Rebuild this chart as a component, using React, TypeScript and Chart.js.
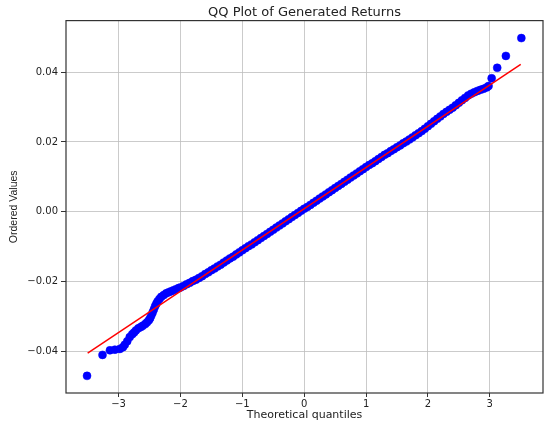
import React, { useEffect, useRef } from "react";
import { Chart, registerables } from "chart.js";

Chart.register(...registerables);

const chartTitle = "QQ Plot of Generated Returns";
const xAxisTitle = "Theoretical quantiles";
const yAxisTitle = "Ordered Values";

const xTicks = [-3, -2, -1, 0, 1, 2, 3];
const yTicks = [-0.04, -0.02, 0.0, 0.02, 0.04];

// Theoretical quantiles (x) and ordered sample values (y)
const quantiles = [
  -3.51, -3.26, -3.14, -3.06, -2.98, -2.93, -2.9, -2.86, -2.82, -2.78, -2.75, -2.72,
  -2.68, -2.64, -2.61, -2.57, -2.54, -2.51, -2.49, -2.47, -2.45, -2.43, -2.41, -2.39,
  -2.37, -2.34, -2.31, -2.27, -2.23, -2.19, -2.15, -2.11, -2.07, -2.03, -2.0, -1.95,
  -1.9, -1.85, -1.8, -1.75, -1.7, -1.65, -1.6, -1.55, -1.5, -1.45, -1.4, -1.35, -1.3,
  -1.25, -1.2, -1.15, -1.1, -1.05, -1.0, -0.95, -0.9, -0.85, -0.8, -0.75, -0.7, -0.65,
  -0.6, -0.55, -0.5, -0.45, -0.4, -0.35, -0.3, -0.25, -0.2, -0.15, -0.1, -0.05, 0.0,
  0.05, 0.1, 0.15, 0.2, 0.25, 0.3, 0.35, 0.4, 0.45, 0.5, 0.55, 0.6, 0.65, 0.7, 0.75,
  0.8, 0.85, 0.9, 0.95, 1.0, 1.05, 1.1, 1.15, 1.2, 1.25, 1.3, 1.35, 1.4, 1.45, 1.5,
  1.55, 1.6, 1.65, 1.7, 1.75, 1.8, 1.85, 1.9, 1.95, 2.0, 2.05, 2.1, 2.15, 2.2, 2.25,
  2.3, 2.35, 2.4, 2.45, 2.5, 2.55, 2.6, 2.65, 2.7, 2.75, 2.8, 2.85, 2.9, 2.95, 2.98,
  3.03, 3.12, 3.26, 3.51,
];

const orderedValues = [
  -0.0469, -0.0409, -0.0396, -0.0394, -0.0392, -0.0387, -0.038, -0.037, -0.0358,
  -0.035, -0.0345, -0.0339, -0.0333, -0.0329, -0.0326, -0.0321, -0.0316, -0.031,
  -0.0304, -0.0296, -0.0288, -0.0279, -0.027, -0.0263, -0.0256, -0.0249, -0.0243,
  -0.0238, -0.0233, -0.023, -0.0227, -0.0224, -0.0221, -0.0218, -0.0216, -0.0212,
  -0.0207, -0.0203, -0.0198, -0.0194, -0.0189, -0.0184, -0.0178, -0.0173, -0.0167,
  -0.0162, -0.0156, -0.0151, -0.0145, -0.0139, -0.0133, -0.0128, -0.0122, -0.0116,
  -0.011, -0.0104, -0.0098, -0.0093, -0.0087, -0.0081, -0.0075, -0.0069, -0.0063,
  -0.0057, -0.0051, -0.0045, -0.0039, -0.0033, -0.0027, -0.0021, -0.0015, -0.0009,
  -0.0003, 0.0003, 0.0009, 0.0014, 0.002, 0.0026, 0.0032, 0.0038, 0.0044, 0.005,
  0.0056, 0.0062, 0.0068, 0.0074, 0.008, 0.0086, 0.0092, 0.0098, 0.0104, 0.011,
  0.0116, 0.0122, 0.0128, 0.0134, 0.0139, 0.0145, 0.0151, 0.0157, 0.0163, 0.0168,
  0.0174, 0.0179, 0.0185, 0.019, 0.0196, 0.0201, 0.0207, 0.0213, 0.0219, 0.0225,
  0.0231, 0.0238, 0.0245, 0.0252, 0.0259, 0.0266, 0.0273, 0.028, 0.0286, 0.0292,
  0.0298, 0.0305, 0.0312, 0.0319, 0.0326, 0.0333, 0.0338, 0.0342, 0.0346, 0.0349,
  0.0352, 0.0356, 0.036, 0.0382, 0.0412, 0.0446, 0.0497,
];

// Fitted reference line end points
const fitX = [-3.5, 3.5];
const fitY = [-0.0404, 0.0422];

const xMin = -3.85;
const xMax = 3.86;
const yMin = -0.0518;
const yMax = 0.0547;

const framePlugin = {
  id: "frame",
  afterDatasetsDraw(chart: any) {
    const { ctx, chartArea } = chart;
    ctx.save();
    ctx.strokeStyle = "#333333";
    ctx.lineWidth = 1.2;
    ctx.strokeRect(chartArea.left, chartArea.top, chartArea.right - chartArea.left, chartArea.bottom - chartArea.top);
    ctx.restore();
  },
};

export default function App() {
  const canvasRef = useRef<HTMLCanvasElement | null>(null);

  useEffect(() => {
    if (!canvasRef.current) return;
    const points = quantiles.map((x, i) => ({ x, y: orderedValues[i] }));
    const fit = fitX.map((x, i) => ({ x, y: fitY[i] }));
    const tickFont = { family: "DejaVu Sans", size: 10 };
    const chart = new Chart(canvasRef.current, {
      type: "scatter",
      data: {
        datasets: [
          {
            data: fit,
            showLine: true,
            borderColor: "#ff0000",
            borderWidth: 1.5,
            pointRadius: 0,
            order: 0,
          } as any,
          {
            data: points,
            backgroundColor: "#0000ff",
            borderColor: "#0000ff",
            borderWidth: 0.5,
            pointRadius: 4,
            order: 1,
          },
        ],
      },
      plugins: [framePlugin],
      options: {
        animation: false,
        responsive: true,
        maintainAspectRatio: false,
        layout: { padding: { left: 0, right: 7, top: 0, bottom: 0 } },
        plugins: {
          legend: { display: false },
          tooltip: { enabled: false },
          title: {
            display: true,
            text: chartTitle,
            fullSize: false,
            color: "#222222",
            font: { family: "DejaVu Sans", size: 13, weight: "normal" },
            padding: { top: 5, bottom: 0 },
          },
        },
        scales: {
          x: {
            type: "linear",
            min: xMin,
            max: xMax,
            afterBuildTicks: (scale: any) => {
              scale.ticks = xTicks.map((v) => ({ value: v }));
            },
            afterFit: (scale: any) => {
              scale.height = 34;
            },
            grid: {
              color: "rgba(190,190,190,0.8)",
              lineWidth: 1,
              drawTicks: true,
              tickLength: 4,
              tickColor: "#333333",
              tickWidth: 1,
            },
            border: { display: false },
            ticks: {
              color: "#222222",
              font: tickFont,
              padding: 1,
              maxRotation: 0,
              callback: (v: any) => String(v).replace("-", "\u2212"),
            },
            title: {
              display: true,
              text: xAxisTitle,
              color: "#222222",
              font: { family: "DejaVu Sans", size: 11 },
              padding: { top: 0, bottom: 5 },
            },
          },
          y: {
            type: "linear",
            min: yMin,
            max: yMax,
            afterBuildTicks: (scale: any) => {
              scale.ticks = yTicks.map((v) => ({ value: v }));
            },
            afterFit: (scale: any) => {
              scale.width = 66;
            },
            grid: {
              color: "rgba(190,190,190,0.8)",
              lineWidth: 1,
              drawTicks: true,
              tickLength: 5,
              tickColor: "#333333",
              tickWidth: 1,
            },
            border: { display: false },
            ticks: {
              color: "#222222",
              font: tickFont,
              padding: 3,
              callback: (v: any) => Number(v).toFixed(2).replace("-", "\u2212"),
            },
            title: {
              display: true,
              text: yAxisTitle,
              color: "#222222",
              font: { family: "Liberation Sans", size: 10.5 },
              padding: { top: 8, bottom: 0 },
            },
          },
        },
      },
    });
    return () => chart.destroy();
  }, []);

  return (
    <div style={{ position: "fixed", left: 0, top: 0, width: 550, height: 427, background: "#ffffff" }}>
      <canvas ref={canvasRef} />
    </div>
  );
}
